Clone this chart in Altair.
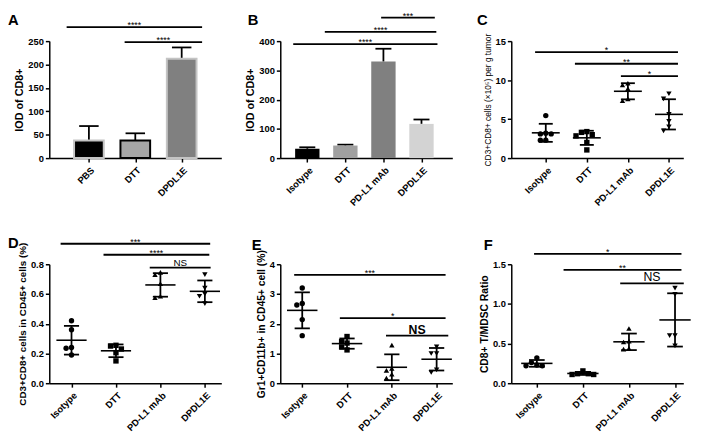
import altair as alt
import pandas as pd
import numpy as np

FONT = "Liberation Sans"
W = 175
H1, H2 = 119, 121

# ---------------- data ----------------
# Panel A (bar, mean + upper error)
A_groups = ["PBS", "DTT", "DPDL1E"]
A_mean = [37.5, 37.5, 212.5]
A_err = [31.0, 15.5, 24.0]
A_fill = ["#000000", "#a6a6a6", "#808080"]
A_edge = ["#c4c4c4", "#000000", "#c4c4c4"]
A_sig_from = [-0.48, 0.77]
A_sig_to = [2.44, 2.44]
A_sig_y = [280, 248]
A_sig_text = ["****", "****"]

# Panel B (bar, mean + upper error)
B_groups = ["Isotype", "DTT", "PD-L1 mAb", "DPDL1E"]
B_mean = [32, 43, 330, 117]
B_err = [5, 3, 44, 15]
B_fill = ["#000000", "#a0a0a0", "#808080", "#d3d3d3"]
B_sig_from = [1.94, 0.46, -0.37]
B_sig_to = [3.35, 3.39, 3.42]
B_sig_y = [480, 432, 390]
B_sig_text = ["***", "****", "****"]

groups4 = ["Isotype", "DTT", "PD-L1 mAb", "DPDL1E"]

# Panel C
C_iso = [5.45, 3.2, 3.1, 3.1, 2.3, 2.3]
C_dtt = [3.4, 3.0, 2.85, 3.3, 2.0, 1.05]
C_pdl1 = [9.6, 9.4, 8.9, 7.35, 7.6]
C_dpdl1e = [8.25, 7.6, 5.6, 4.7, 4.0, 3.5]
C_sig_from = [-0.26, 0.71, 1.83]
C_sig_to = [3.22, 3.22, 3.22]
C_sig_y = [13.6, 12.1, 10.5]
C_sig_text = ["*", "**", "*"]

# Panel D
D_iso = [0.42, 0.36, 0.24, 0.235, 0.19]
D_dtt = [0.23, 0.255, 0.25, 0.205, 0.15]
D_pdl1 = [0.73, 0.745, 0.67, 0.575, 0.585]
D_dpdl1e = [0.73, 0.64, 0.60, 0.585, 0.535]
D_sig_from = [-0.245, 0.72, 1.76]
D_sig_to = [3.12, 3.10, 3.13]
D_sig_y = [0.938, 0.864, 0.777]
D_sig_text = ["***", "****", "NS"]

# Panel E
E_iso = [3.2, 2.68, 2.63, 2.14, 1.6]
E_dtt = [1.57, 1.4, 1.35, 1.22, 1.12]
E_pdl1 = [1.28, 0.43, 0.5, 0.3, 0.17]
E_dpdl1e = [1.22, 1.0, 1.0, 0.36, 0.45]
E_sig_from = [-0.18, 0.84, 1.87]
E_sig_to = [3.20, 3.20, 3.26]
E_sig_y = [3.64, 2.19, 1.6]
E_sig_text = ["***", "*", "NS"]

# Panel F
F_iso = [0.32, 0.26, 0.23, 0.22, 0.22]
F_dtt = [0.155, 0.12, 0.11, 0.11, 0.12]
F_pdl1 = [0.69, 0.53, 0.52, 0.44, 0.43]
F_dpdl1e = [1.2, 1.12, 0.6, 0.6, 0.47]
F_sig_from = [-0.06, 0.58, 1.81]
F_sig_to = [3.14, 3.14, 3.19]
F_sig_y = [1.63, 1.43, 1.26]
F_sig_text = ["*", "**", "NS"]

SHAPES = ["circle", "square", "triangle-up", "triangle-down"]

# layout frame around each plot area (pixels): left, right, top, bottom
FR_LEFT, FR_RIGHT = 42, 17.5
ROW1_TOP, ROW1_BOTTOM = 30, 76
ROW2_TOP, ROW2_BOTTOM = 32, 45


# ---------------- helpers ----------------
def make_xy(groups, xdom, ydom, yticks, yfmt, ytitle, tfs, tfw, tpad, lfw="bold"):
    names = "[" + ",".join("'%s'" % g for g in groups) + "]"
    xaxis = alt.Axis(values=list(range(len(groups))), labelExpr=names + "[round(datum.value)]",
                     labelAngle=-45, labelAlign="right", labelBaseline="top", labelPadding=3,
                     labelFlush=False, labelOverlap=False, title=None, labelFontWeight=lfw)
    yaxis = alt.Axis(values=yticks, format=yfmt, title=ytitle, titleFontSize=tfs,
                     titleFontWeight=tfw, titlePadding=tpad, labelFlush=False,
                     labelOverlap=False, labelFontWeight=lfw)
    xs = alt.Scale(domain=xdom, nice=False, zero=False)
    ys = alt.Scale(domain=ydom, nice=False, zero=False)

    def X(f):
        return alt.X(f, type="quantitative", scale=xs, axis=xaxis)

    def Y(f):
        return alt.Y(f, type="quantitative", scale=ys, axis=yaxis)
    return X, Y


def frame_layers(letter, lx, ly, h, top, bottom):
    one = pd.DataFrame({"letter": [letter]})
    box = alt.Chart(one).mark_rect(opacity=0).encode(
        x=alt.value(-FR_LEFT), x2=alt.value(W + FR_RIGHT),
        y=alt.value(-top), y2=alt.value(h + bottom))
    lab = alt.Chart(one).mark_text(font=FONT, fontSize=15, fontWeight="bold", align="left",
                                   baseline="alphabetic", color="black").encode(
        x=alt.value(lx), y=alt.value(ly), text="letter:N")
    return [box, lab]


def sig_layers(x1, x2, yv, labs, X, Y, star_fs=9, ns_fs=11, ns_w="normal"):
    df = pd.DataFrame({"x1": x1, "x2": x2, "y": yv, "lab": labs})
    df["xm"] = (df["x1"] + df["x2"]) / 2
    rule = alt.Chart(df).mark_rule(color="black", strokeWidth=1.8).encode(
        x=X("x1"), x2=alt.X2("x2"), y=Y("y"))
    stars = alt.Chart(df).transform_filter("datum.lab != 'NS'").mark_text(
        font=FONT, fontSize=star_fs, baseline="alphabetic", dy=1, color="black").encode(
        x=X("xm"), y=Y("y"), text="lab:N")
    ns = alt.Chart(df).transform_filter("datum.lab == 'NS'").mark_text(
        font=FONT, fontSize=ns_fs, fontWeight=ns_w, baseline="alphabetic", dy=-2, color="black").encode(
        x=X("xm"), y=Y("y"), text="lab:N")
    return [rule, stars, ns]


def bar_panel(letter, lx, ly, groups, means, errs, fills, edges, edge_w, xdom, ydom, yticks,
              ytitle, sig):
    X, Y = make_xy(groups, xdom, ydom, yticks, "d", ytitle, 11, "bold", 3)
    n = len(groups)
    df = pd.DataFrame({"g": groups, "i": range(n), "m": means, "e": errs})
    df["zero"] = 0.0
    df["xl"] = df["i"] - 0.32
    df["xr"] = df["i"] + 0.32
    df["top"] = df["m"] + df["e"]
    df["cl"] = df["i"] - 0.21
    df["cr"] = df["i"] + 0.21
    layers = frame_layers(letter, lx, ly, H1, ROW1_TOP, ROW1_BOTTOM)
    layers += sig_layers(*sig, X, Y)
    err_v = alt.Chart(df).mark_rule(color="black", strokeWidth=1.8).encode(
        x=X("i"), y=Y("m"), y2=alt.Y2("top"))
    err_c = alt.Chart(df).mark_rule(color="black", strokeWidth=1.8).encode(
        x=X("cl"), x2=alt.X2("cr"), y=Y("top"))
    bars = alt.Chart(df).mark_rect(strokeWidth=edge_w).encode(
        x=X("xl"), x2=alt.X2("xr"), y=Y("zero"), y2=alt.Y2("m"),
        fill=alt.Fill("g:N", scale=alt.Scale(domain=groups, range=fills), legend=None),
        stroke=alt.Stroke("g:N", scale=alt.Scale(domain=groups, range=edges), legend=None))
    layers += [err_v, err_c, bars]
    return alt.layer(*layers).properties(width=W, height=H1)


def swarm(vals, ppu, step_px, d=5.5):
    placed, offs = [], [0.0] * len(vals)
    order = sorted(range(len(vals)), key=lambda k: -vals[k])
    for k in order:
        y = vals[k] * ppu
        chosen = 0.0
        for m in [0, -1, 1, -2, 2, -3, 3]:
            x = m * d
            if all((x - px) ** 2 + (y - py) ** 2 >= (d * 0.95) ** 2 for px, py in placed):
                chosen = x
                break
        placed.append((chosen, y))
        offs[k] = chosen / step_px
    return offs


def scatter_panel(letter, lx, ly, h, top, bottom, series, xdom, ydom, yticks, yfmt, ytitle,
                  tfs, tfw, sig, ns_fs, ns_w, lfw="bold"):
    X, Y = make_xy(groups4, xdom, ydom, yticks, yfmt, ytitle, tfs, tfw, 3, lfw)
    ppu = h / (ydom[1] - ydom[0])
    step_px = W / (xdom[1] - xdom[0])
    rows, stats = [], []
    for i, (g, vals) in enumerate(zip(groups4, series)):
        offs = swarm(vals, ppu, step_px)
        for v, o in zip(vals, offs):
            rows.append({"g": g, "v": v, "x": i + o})
        m = float(np.mean(vals))
        s = float(np.std(vals, ddof=1))
        stats.append({"i": i, "m": m, "lo": m - s, "hi": m + s,
                      "ml": i - 0.34, "mr": i + 0.34, "cl": i - 0.17, "cr": i + 0.17})
    pts = pd.DataFrame(rows)
    st = pd.DataFrame(stats)
    layers = frame_layers(letter, lx, ly, h, top, bottom)
    layers += sig_layers(*sig, X, Y, 9, ns_fs, ns_w)
    points = alt.Chart(pts).mark_point(filled=True, size=30, color="black", opacity=1).encode(
        x=X("x"), y=Y("v"),
        shape=alt.Shape("g:N", scale=alt.Scale(domain=groups4, range=SHAPES), legend=None))
    mean_l = alt.Chart(st).mark_rule(color="black", strokeWidth=1.6).encode(
        x=X("ml"), x2=alt.X2("mr"), y=Y("m"))
    vline = alt.Chart(st).mark_rule(color="black", strokeWidth=1.8).encode(
        x=X("i"), y=Y("lo"), y2=alt.Y2("hi"))
    cap_hi = alt.Chart(st).mark_rule(color="black", strokeWidth=1.8).encode(
        x=X("cl"), x2=alt.X2("cr"), y=Y("hi"))
    cap_lo = alt.Chart(st).mark_rule(color="black", strokeWidth=1.8).encode(
        x=X("cl"), x2=alt.X2("cr"), y=Y("lo"))
    layers += [points, mean_l, vline, cap_hi, cap_lo]
    return alt.layer(*layers).properties(width=W, height=h)


# ---------------- panels ----------------
pA = bar_panel("A", -42, -16, A_groups, A_mean, A_err, A_fill, A_edge, 2,
               [-0.854, 2.854], [0, 250], [0, 50, 100, 150, 200, 250], "IOD of CD8+",
               (A_sig_from, A_sig_to, A_sig_y, A_sig_text))
pB = bar_panel("B", -33, -16, B_groups, B_mean, B_err, B_fill, B_fill, 0,
               [-0.71, 3.81], [0, 400], [0, 100, 200, 300, 400], "IOD of CD8+",
               (B_sig_from, B_sig_to, B_sig_y, B_sig_text))
pC = scatter_panel("C", -35, -16, H1, ROW1_TOP, ROW1_BOTTOM,
                   [C_iso, C_dtt, C_pdl1, C_dpdl1e], [-0.84, 3.35], [0, 15],
                   [0, 5, 10, 15], "d", "CD3+CD8+ cells (×10⁵) per g tumor", 8.5, "normal",
                   (C_sig_from, C_sig_to, C_sig_y, C_sig_text), 11, "normal")
pD = scatter_panel("D", -42, -17, H2, ROW2_TOP, ROW2_BOTTOM,
                   [D_iso, D_dtt, D_pdl1, D_dpdl1e], [-0.5, 3.37], [0, 0.8],
                   [0, 0.2, 0.4, 0.6, 0.8], ".1f", "CD3+CD8+ cells in CD45+ cells (%)", 10, "bold",
                   (D_sig_from, D_sig_to, D_sig_y, D_sig_text), 10, "normal")
pE = scatter_panel("E", -29, -15, H2, ROW2_TOP, ROW2_BOTTOM,
                   [E_iso, E_dtt, E_pdl1, E_dpdl1e], [-0.49, 3.35], [0, 4],
                   [0, 1, 2, 3, 4], "d", "Gr1+CD11b+ in CD45+ cell (%)", 10.5, "bold",
                   (E_sig_from, E_sig_to, E_sig_y, E_sig_text), 12.5, "bold")
pF = scatter_panel("F", -28, -15, H2, ROW2_TOP, ROW2_BOTTOM,
                   [F_iso, F_dtt, F_pdl1, F_dpdl1e], [-0.555, 3.18], [0, 1.5],
                   [0, 0.5, 1.0, 1.5], ".1f", "CD8+ T/MDSC Ratio", 10.5, "bold",
                   (F_sig_from, F_sig_to, F_sig_y, F_sig_text), 12.5, "normal")

chart = alt.concat(pA, pB, pC, pD, pE, pF, columns=3, spacing=0).resolve_scale(
    fill="independent", stroke="independent", shape="independent"
).properties(
    padding=0, background="white"
).configure_view(stroke=None).configure_axis(
    domainColor="black", domainWidth=1.5, tickColor="black", tickWidth=1.5, tickSize=4,
    labelColor="black", titleColor="black", labelFont=FONT, titleFont=FONT, grid=False,
    labelFontSize=9.5, labelPadding=2
)

chart.save("out.html", embed_options={"renderer": "svg", "actions": False})
